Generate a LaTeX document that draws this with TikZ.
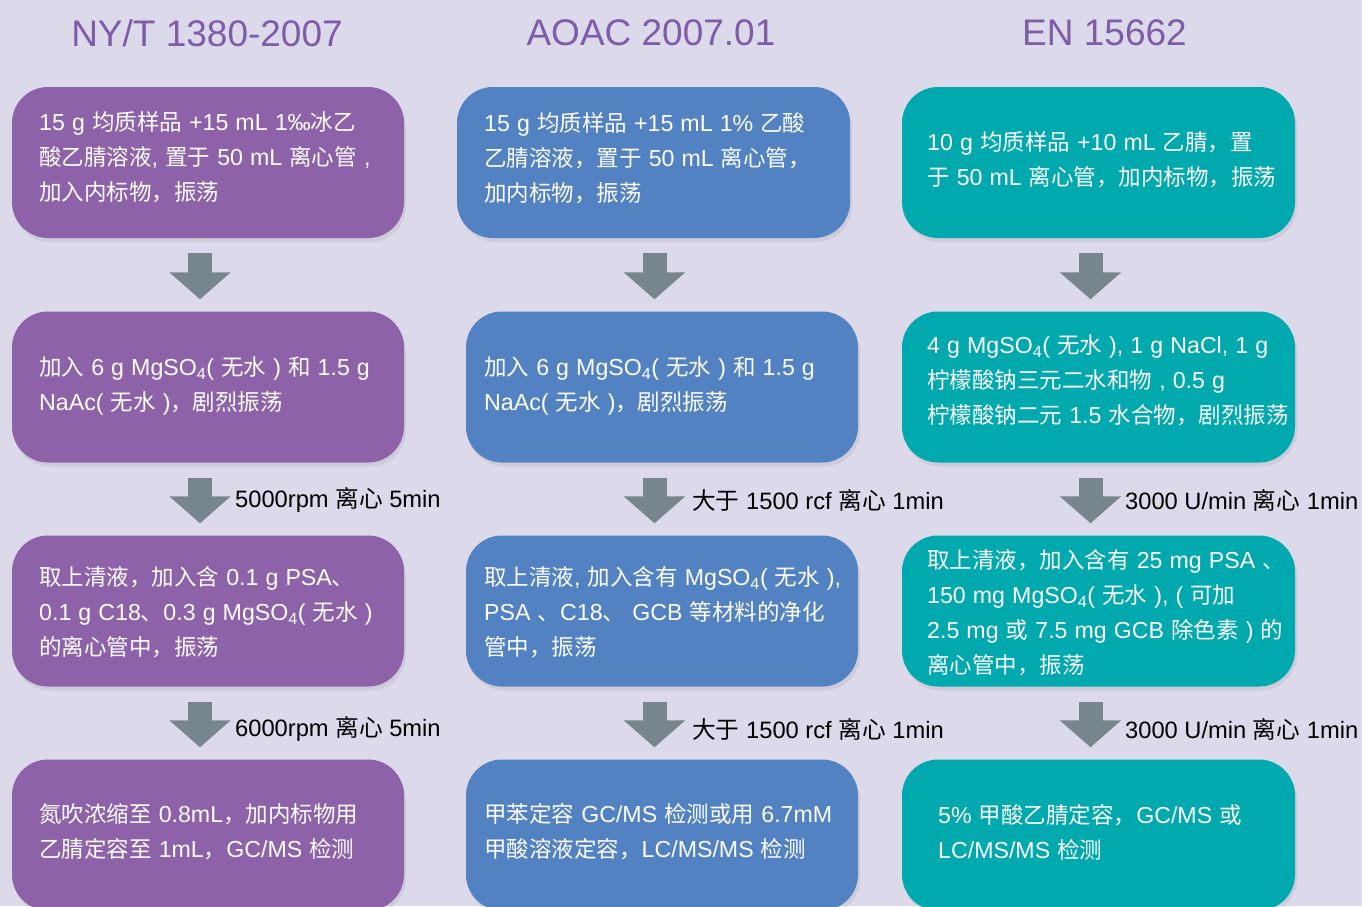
\documentclass[tikz,border=0pt]{standalone}
\usepackage{fontspec}
\setmainfont{Liberation Sans}
\newfontfamily\zhfont{Noto Sans CJK SC}
\newfontfamily\lafont{Liberation Sans}
\newfontfamily\lafontb[Scale=1.03,WordSpace=1.1]{Liberation Sans}
\let\curlatin\lafont
\usetikzlibrary{arrows.meta,shadows}
\newXeTeXintercharclass\zhcls
\newcount\zhc
\def\setcls#1#2#3{\zhc=#1\relax\loop\XeTeXcharclass\zhc=#3\relax\advance\zhc by 1\relax\ifnum\zhc<#2\repeat}
\setcls{0}{"3000}{0}
\setcls{"3000}{"3040}{\zhcls}
\setcls{"4E00}{"A000}{\zhcls}
\setcls{"FF00}{"FFF0}{\zhcls}
\XeTeXinterchartoks 0 \zhcls = {\zhfont}
\XeTeXinterchartoks 4095 \zhcls = {\zhfont}
\XeTeXinterchartoks \zhcls 0 = {\curlatin}
\XeTeXinterchartoks \zhcls 4095 = {\curlatin}
\XeTeXinterchartokenstate=1
\definecolor{bgc}{HTML}{DCD9EB}
\definecolor{purp}{HTML}{8E62A8}
\definecolor{blu}{HTML}{5282C2}
\definecolor{teal2}{HTML}{00A9AE}
\definecolor{arrc}{HTML}{77858C}
\definecolor{titc}{HTML}{7E5CA8}
\newcommand{\sub}[1]{\textsubscript{#1}}
\tikzset{
  box/.style={rectangle, rounded corners=36pt, minimum width=392pt, minimum height=151pt, inner sep=0pt,
    drop shadow={opacity=0.15, shadow xshift=2pt, shadow yshift=-4pt}},
  txt/.style={text=white, font={\let\curlatin\lafontb\lafontb\fontsize{22.5}{35}\selectfont}, align=left, anchor=west, inner sep=0pt},
  lbl/.style={text=black, font=\fontsize{23.7}{28}\selectfont, anchor=west, inner sep=0pt},
  ttl/.style={text=titc, font=\fontsize{37}{40}\selectfont, inner sep=0pt},
  flow/.style={draw=arrc, line width=24pt, -{Triangle[length=27pt,width=60pt,fill=arrc]},
    shorten <=15pt, shorten >=12pt},
}
\begin{document}
\begin{tikzpicture}[x=1pt,y=-1pt]
\useasboundingbox (0,0) rectangle (1362,906);
\clip (0,0) rectangle (1362,906);
\fill[bgc] (0,0) rectangle (1362,906);

% titles
\node[ttl] (h1) at (207,33) {NY/T 1380-2007};
\node[ttl] (h2) at (651,33) {AOAC 2007.01};
\node[ttl] (h3) at (1104.5,33) {EN 15662};

% column 1 boxes
\node[box, fill=purp] (a1) at (208,162.5) {};
\node[box, fill=purp] (a2) at (208,387) {};
\node[box, fill=purp] (a3) at (208,611) {};
\node[box, fill=purp] (a4) at (208,835) {};
% column 2 boxes
\node[box, fill=blu, minimum width=393pt] (b1) at (653.5,162.5) {};
\node[box, fill=blu] (b2) at (662,387) {};
\node[box, fill=blu] (b3) at (662,611) {};
\node[box, fill=blu] (b4) at (662,835) {};
% column 3 boxes
\node[box, fill=teal2, minimum width=393pt] (c1) at (1098.5,162.5) {};
\node[box, fill=teal2, minimum width=393pt] (c2) at (1098.5,387) {};
\node[box, fill=teal2, minimum width=393pt] (c3) at (1098.5,611) {};
\node[box, fill=teal2, minimum width=393pt] (c4) at (1098.5,835) {};

% texts column 1
\node[txt] (ta1) at (39,157) {15 g 均质样品 +15 mL 1‰冰乙\\酸乙腈溶液, 置于 50 mL 离心管 ,\\加入内标物，振荡};
\node[txt] (ta2) at (39,386) {加入 6 g MgSO\sub{4}( 无水 ) 和 1.5 g\\NaAc( 无水 )，剧烈振荡};
\node[txt] (ta3) at (39,612) {取上清液，加入含 0.1 g PSA、\\0.1 g C18、0.3 g MgSO\sub{4}( 无水 )\\的离心管中，振荡};
\node[txt] (ta4) at (39,832) {氮吹浓缩至 0.8mL，加内标物用\\乙腈定容至 1mL，GC/MS 检测};
% texts column 2
\node[txt] (tb1) at (484,158) {15 g 均质样品 +15 mL 1\% 乙酸\\乙腈溶液，置于 50 mL 离心管，\\加内标物，振荡};
\node[txt] (tb2) at (484,386) {加入 6 g MgSO\sub{4}( 无水 ) 和 1.5 g\\NaAc( 无水 )，剧烈振荡};
\node[txt] (tb3) at (484,612) {取上清液, 加入含有 MgSO\sub{4}( 无水 ),\\PSA 、C18、 GCB 等材料的净化\\管中，振荡};
\node[txt] (tb4) at (484,832) {甲苯定容 GC/MS 检测或用 6.7mM\\甲酸溶液定容，LC/MS/MS 检测};
% texts column 3
\node[txt] (tc1) at (927,160) {10 g 均质样品 +10 mL 乙腈，置\\于 50 mL 离心管，加内标物，振荡};
\node[txt] (tc2) at (927,380) {4 g MgSO\sub{4}( 无水 ), 1 g NaCl, 1 g\\柠檬酸钠三元二水和物 , 0.5 g\\柠檬酸钠二元 1.5 水合物，剧烈振荡};
\node[txt] (tc3) at (927,613) {取上清液，加入含有 25 mg PSA 、\\150 mg MgSO\sub{4}( 无水 ), ( 可加\\2.5 mg 或 7.5 mg GCB 除色素 ) 的\\离心管中，振荡};
\node[txt] (tc4) at (938,832) {5\% 甲酸乙腈定容，GC/MS 或\\LC/MS/MS 检测};

% arrows
\draw[flow] ([xshift=-8pt]a1.south) -- ([xshift=-8pt]a2.north);
\draw[flow] ([xshift=-8pt]a2.south) -- ([xshift=-8pt]a3.north);
\draw[flow] ([xshift=-8pt]a3.south) -- ([xshift=-8pt]a4.north);
\draw[flow] ([xshift=1pt]b1.south) -- ([xshift=-7.5pt]b2.north);
\draw[flow] ([xshift=-7.5pt]b2.south) -- ([xshift=-7.5pt]b3.north);
\draw[flow] ([xshift=-7.5pt]b3.south) -- ([xshift=-7.5pt]b4.north);
\draw[flow] ([xshift=-8pt]c1.south) -- ([xshift=-8pt]c2.north);
\draw[flow] ([xshift=-8pt]c2.south) -- ([xshift=-8pt]c3.north);
\draw[flow] ([xshift=-8pt]c3.south) -- ([xshift=-8pt]c4.north);

% arrow labels
\node[lbl] (la2) at (235,500) {5000rpm 离心 5min};
\node[lbl] (la3) at (235,729) {6000rpm 离心 5min};
\node[lbl] (lb2) at (692,500) {大于 1500 rcf 离心 1min};
\node[lbl] (lb3) at (692,729) {大于 1500 rcf 离心 1min};
\node[lbl] (lc2) at (1125,500) {3000 U/min 离心 1min};
\node[lbl] (lc3) at (1125,729) {3000 U/min 离心 1min};
\end{tikzpicture}
\end{document}
